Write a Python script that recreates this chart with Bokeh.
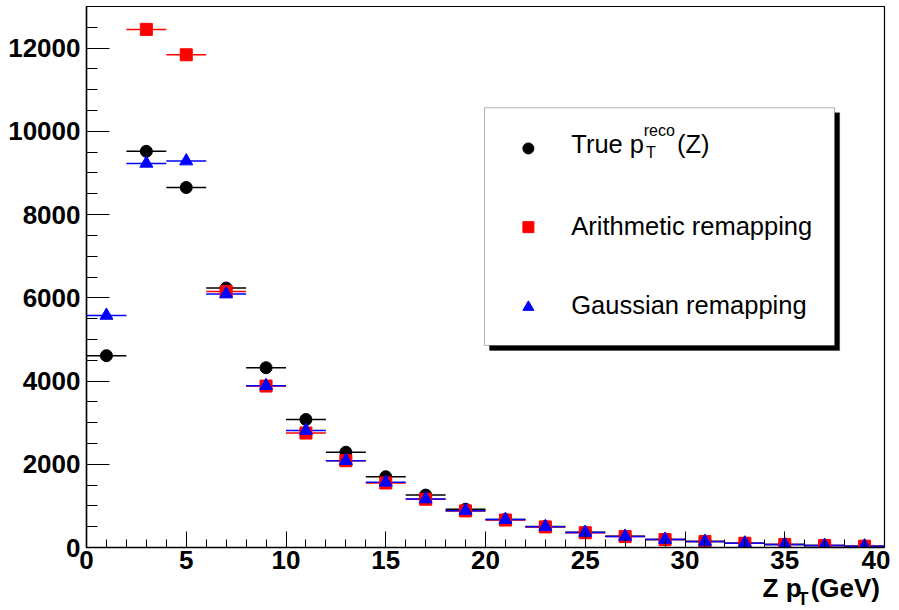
import numpy as np
from bokeh.plotting import figure
from bokeh.layouts import column
from bokeh.models import (Range1d, SingleIntervalTicker, Label, BoxAnnotation,
                          ColumnDataSource)
from bokeh.embed import file_html
from bokeh.resources import INLINE

# ---- data (bin centres, bin half-width, contents) ----
bin_centers = [1, 3, 5, 7, 9, 11, 13, 15, 17, 19, 21, 23, 25, 27, 29, 31, 33, 35, 37, 39]
bin_half_width = 1.0
true_reco = [4610, 9520, 8650, 6235, 4320, 3075, 2290, 1700, 1260, 920,
             675, 505, 365, 270, 195, 145, 105, 72, 50, 33]
arith_remap = [np.nan, 12450, 11840, 6150, 3880, 2750, 2085, 1550, 1160, 880,
               660, 495, 355, 262, 190, 142, 102, 70, 47, 31]
gauss_remap = [5575, 9230, 9285, 6090, 3885, 2810, 2085, 1565, 1165, 885,
               670, 500, 360, 265, 192, 143, 103, 72, 48, 32]

x_ticks_interval = 5
y_ticks_interval = 2000
FONT = "Liberation Sans"
W = 890

p = figure(width=W, height=581, output_backend="svg", toolbar_location=None,
           x_range=Range1d(0, 40), y_range=Range1d(0, 13000),
           min_border_left=86, min_border_right=6, min_border_top=6,
           min_border_bottom=34)
p.xgrid.visible = False
p.ygrid.visible = False
p.outline_line_color = "black"
p.outline_line_width = 1.2
p.background_fill_color = "white"
p.border_fill_color = "white"

for ax, ticker, tin, tmin in ((p.xaxis[0], SingleIntervalTicker(interval=x_ticks_interval, num_minor_ticks=5), 16, 8),
                              (p.yaxis[0], SingleIntervalTicker(interval=y_ticks_interval, num_minor_ticks=4), 23, 11)):
    ax.ticker = ticker
    ax.major_tick_in = tin
    ax.major_tick_out = 0
    ax.minor_tick_in = tmin
    ax.minor_tick_out = 0
    ax.major_tick_line_color = "black"
    ax.minor_tick_line_color = "black"
    ax.axis_line_color = "black"
    ax.axis_line_width = 1.5
    ax.major_label_text_font = FONT
    ax.major_label_text_font_style = "bold"
    ax.major_label_text_font_size = "26px"
    ax.major_label_text_color = "black"
p.yaxis[0].major_label_standoff = 6
p.xaxis[0].major_label_standoff = 3

x = np.array(bin_centers, dtype=float)
series = [
    (true_reco, "black", "circle", 12),
    (arith_remap, "red", "square", 12),
    (gauss_remap, "blue", "triangle", 13),
]
for vals, col, marker, size in series:
    y = np.array(vals, dtype=float)
    src = ColumnDataSource(dict(x=x, y=y, x0=x - bin_half_width, x1=x + bin_half_width))
    p.segment(x0="x0", y0="y", x1="x1", y1="y", source=src, line_color=col, line_width=1.5)
for vals, col, marker, size in series:
    y = np.array(vals, dtype=float)
    p.scatter(x=x, y=y, marker=marker, size=size, fill_color=col, line_color=col)

# ---- legend box (ROOT style with shadow) ----
lx0, lx1, ly0, ly1 = 19.95, 37.5, 4855, 10567
dx, dy = 0.25, 120
p.add_layout(BoxAnnotation(left=lx0 + dx, right=lx1 + dx, bottom=ly0 - dy, top=ly1 - dy,
                           fill_color="black", fill_alpha=1.0, line_color="black"))
p.add_layout(BoxAnnotation(left=lx0, right=lx1, bottom=ly0, top=ly1,
                           fill_color="white", fill_alpha=1.0, line_color="black", line_width=1))

leg_x = 22.15
leg_y = [9589, 7698, 5775]
p.scatter(x=[leg_x], y=[leg_y[0]], marker="circle", size=11, fill_color="black",
          line_color="black", level="overlay")
p.scatter(x=[leg_x], y=[leg_y[1]], marker="square", size=11, fill_color="red",
          line_color="red", level="overlay")
p.scatter(x=[leg_x], y=[leg_y[2]], marker="triangle", size=11, fill_color="blue",
          line_color="blue", level="overlay")

def lab(fig, xv, yv, txt, size, bold=False, align="left"):
    fig.add_layout(Label(x=xv, y=yv, text=txt,
                         text_font=FONT, text_font_size=f"{size}px",
                         text_font_style="bold" if bold else "normal", text_color="black",
                         text_align=align, text_baseline="alphabetic"))

tx = 24.3
up = 216
lab(p, tx, 9486 + up, "True p", 25.5)
lab(p, 27.93, 9800 + up, "reco", 16)
lab(p, 28.05, 9270 + up, "T", 16)
lab(p, 29.6, 9486 + up, "(Z)", 25.5)
lab(p, tx, 7515 + up, "Arithmetic remapping", 25.5)
lab(p, tx, 5617 + up, "Gaussian remapping", 25.5)

# ---- x axis title strip: Z p_T (GeV), right aligned under the frame ----
H2 = 35
p2 = figure(width=W, height=H2, output_backend="svg", toolbar_location=None,
            x_range=Range1d(0, W), y_range=Range1d(0, H2),
            x_axis_location=None, y_axis_location=None,
            min_border_left=0, min_border_right=0, min_border_top=0, min_border_bottom=0)
p2.xgrid.visible = False
p2.ygrid.visible = False
p2.outline_line_color = None
p2.border_fill_color = None
p2.background_fill_color = None
p2.styles = {"margin-top": "-8px"}
lab(p2, 754, 21, "Z p", 26, bold=True)
lab(p2, 793, 10, "T", 18, bold=True)
lab(p2, 885, 21, "(GeV)", 26, bold=True, align="right")

layout = column(p, p2, spacing=0)
open("out.html", "w").write(file_html(layout, INLINE))
